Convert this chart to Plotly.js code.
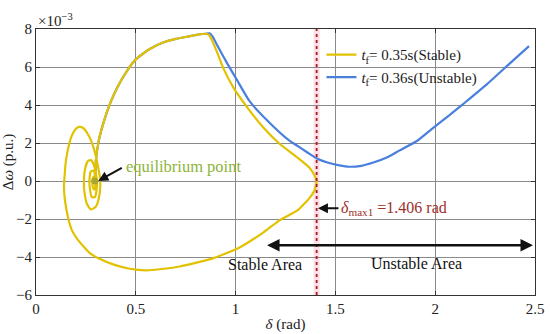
<!DOCTYPE html>
<html><head><meta charset="utf-8">
<script src="https://cdn.plot.ly/plotly-3.0.1.min.js"></script>
<style>body{margin:0;background:#fff}#g{width:550px;height:334px}</style>
</head><body><div id="g"></div>
<script>
// Stable trajectory, tf = 0.35 s (delta in rad, delta-omega in 1e-3 p.u.)
const stableDelta = [0.295,0.298,0.30,0.314,0.339,0.37,0.406,0.456,0.50,0.57,0.64,0.70,0.76,0.81,0.85,0.865,
  0.88,0.91,0.94,0.99,1.06,1.14,1.22,1.31,1.37,1.395,1.406,1.395,1.37,1.31,1.22,1.14,1.02,0.89,0.72,0.64,0.55,0.47,0.39,0.31,0.27,0.21,0.18,0.16,0.145,0.14,
  0.145,0.15,0.165,0.18,0.20,0.215,0.235,0.255,0.275,0.29,0.30,0.31,0.32,0.322,0.315,0.30,0.275,0.255,0.243,0.24,0.245,0.26,0.275,0.29,0.30,0.305,0.303,0.295,0.28,0.27,0.268,0.275,0.288,0.297,0.298,0.292,0.284,0.283,0.29,0.295];
const stableOmega = [0,0.5,1.07,2.1,3.1,4.05,4.9,5.8,6.4,6.95,7.3,7.48,7.6,7.7,7.75,7.7,
  7.45,6.7,5.9,4.9,3.85,2.8,1.96,1.23,0.7,0.3,0,-0.5,-0.9,-1.55,-2.07,-2.7,-3.5,-4.06,-4.5,-4.62,-4.7,-4.62,-4.4,-4.05,-3.8,-3.1,-2.6,-1.9,-1.0,-0.3,
  0.5,1.07,1.9,2.4,2.75,2.85,2.8,2.55,2.15,1.7,1.3,0.8,0.2,-0.3,-0.9,-1.35,-1.5,-1.2,-0.6,0,0.6,1.05,1.1,0.85,0.4,0,-0.5,-0.85,-0.85,-0.4,0.1,0.5,0.55,0.2,-0.2,-0.45,-0.3,0.1,0.25,0];
// Unstable trajectory, tf = 0.36 s
const unstableDelta = [0.295,0.298,0.30,0.314,0.339,0.37,0.406,0.456,0.50,0.57,0.64,0.70,0.76,0.81,0.85,0.87,0.885,0.91,0.96,1.01,1.07,1.16,1.26,1.36,1.41,1.46,1.52,1.57,1.63,1.69,1.76,1.82,1.91,1.99,2.07,2.14,2.26,2.37,2.47];
const unstableOmega = [0,0.5,1.07,2.1,3.1,4.05,4.9,5.8,6.4,6.95,7.3,7.48,7.6,7.7,7.75,7.77,7.6,7.1,6.15,5.26,4.2,3.17,2.2,1.5,1.17,0.97,0.82,0.75,0.8,0.97,1.25,1.6,2.12,2.8,3.45,4.05,5.1,6.15,7.1];
const equilibrium = [0.295, 0];
const deltaMax = 1.406;
const xTicks = [0,0.5,1,1.5,2,2.5];
const xTickText = ['0','0.5','1','1.5','2','2.5'];
const yTicks = [-6,-4,-2,0,2,4,6,8];
const yTickText = ['−6','−4','−2','0','2','4','6','8'];

const SERIF = 'Liberation Serif';
const YEL = '#E2C200', BLU = '#4A7FDE';
const traces = [
  {x: unstableDelta, y: unstableOmega, mode:'lines', line:{color:BLU,width:2.2,shape:'spline',smoothing:0.5},
   name:'<i>t</i><sub>f</sub>= 0.36s(Unstable)', legendrank:2},
  {x: stableDelta, y: stableOmega, mode:'lines', line:{color:YEL,width:2.2,shape:'spline',smoothing:0.5},
   name:'<i>t</i><sub>f</sub>= 0.35s(Stable)', legendrank:1},
  {x:[equilibrium[0]], y:[equilibrium[1]], mode:'markers', marker:{color:'#A8A830',size:7}, showlegend:false, hoverinfo:'skip'}
];
const layout = {
  width:550, height:334, margin:{l:35.5,r:15,t:28.5,b:39}, paper_bgcolor:'#fff', plot_bgcolor:'#fff',
  font:{family:SERIF, size:15, color:'#222'},
  showlegend:true,
  legend:{x:0.572,y:0.965,xanchor:'left',yanchor:'top',bgcolor:'rgba(0,0,0,0)',borderwidth:0,
    font:{family:SERIF,size:15,color:'#222'}, tracegroupgap:0, itemwidth:30},
  xaxis:{range:[0,2.5], tickmode:'array', tickvals:xTicks, ticktext:xTickText,
    showgrid:true, gridcolor:'#8a8a8a', gridwidth:1, zeroline:false, showline:true, linecolor:'#333', linewidth:1,
    mirror:'ticks', ticks:'inside', ticklen:4, tickcolor:'#333',
    tickfont:{family:SERIF,size:15,color:'#222'},
    title:{text:'<i>δ</i> (rad)', font:{family:SERIF,size:15,color:'#222'}, standoff:2}},
  yaxis:{range:[-6,8], tickmode:'array', tickvals:yTicks, ticktext:yTickText,
    showgrid:true, gridcolor:'#8a8a8a', gridwidth:1, zeroline:false, showline:true, linecolor:'#333', linewidth:1,
    mirror:'ticks', ticks:'inside', ticklen:4, tickcolor:'#333',
    tickfont:{family:SERIF,size:15,color:'#222'},
    title:{text:'Δ<i>ω</i> (p.u.)', font:{family:SERIF,size:15,color:'#222'}, standoff:6}},
  shapes:[
    {type:'line', xref:'x', yref:'y', x0:deltaMax, x1:deltaMax, y0:-6, y1:8, line:{color:'rgba(255,190,205,0.5)', width:6}, layer:'below'},
    {type:'line', xref:'x', yref:'y', x0:deltaMax, x1:deltaMax, y0:-6, y1:8, line:{color:'#A02020', width:1.8, dash:'dot'}}
  ],
  annotations:[
    {xref:'paper', yref:'paper', x:0, y:1, xanchor:'left', yanchor:'bottom', showarrow:false, yshift:-2,
      text:'×10<sup>−3</sup>', font:{family:SERIF,size:15,color:'#222'}},
    {xref:'x', yref:'y', x:0.312, y:0, ax:25, ay:-14, text:'', showarrow:true, arrowhead:2, arrowsize:1, arrowwidth:2, arrowcolor:'#111'},
    {xref:'x', yref:'y', x:0.44, y:0.75, xanchor:'left', showarrow:false, text:'equilibrium point',
      font:{family:SERIF,size:16.5,color:'#8DB43A'}},
    {xref:'x', yref:'y', x:1.4125, y:-1.44, ax:22, ay:0, text:'', showarrow:true, arrowhead:2, arrowsize:1, arrowwidth:2, arrowcolor:'#111'},
    {xref:'x', yref:'y', x:1.52, y:-1.44, xanchor:'left', showarrow:false,
      text:'<i>δ</i><sub>max1</sub> =1.406 rad', font:{family:SERIF,size:16,color:'#A0302A'}},
    {xref:'x', yref:'y', axref:'x', ayref:'y', x:2.49, y:-3.38, ax:1.15, ay:-3.38, text:'', showarrow:true,
      arrowhead:2, arrowside:'end+start', arrowsize:1, arrowwidth:2.5, arrowcolor:'#111'},
    {xref:'x', yref:'y', x:1.145, y:-4.4, showarrow:false, text:'Stable Area', font:{family:SERIF,size:16,color:'#111'}},
    {xref:'x', yref:'y', x:1.905, y:-4.35, showarrow:false, text:'Unstable Area', font:{family:SERIF,size:16,color:'#111'}}
  ]
};
Plotly.newPlot('g', traces, layout, {displayModeBar:false, staticPlot:true});
</script></body></html>
